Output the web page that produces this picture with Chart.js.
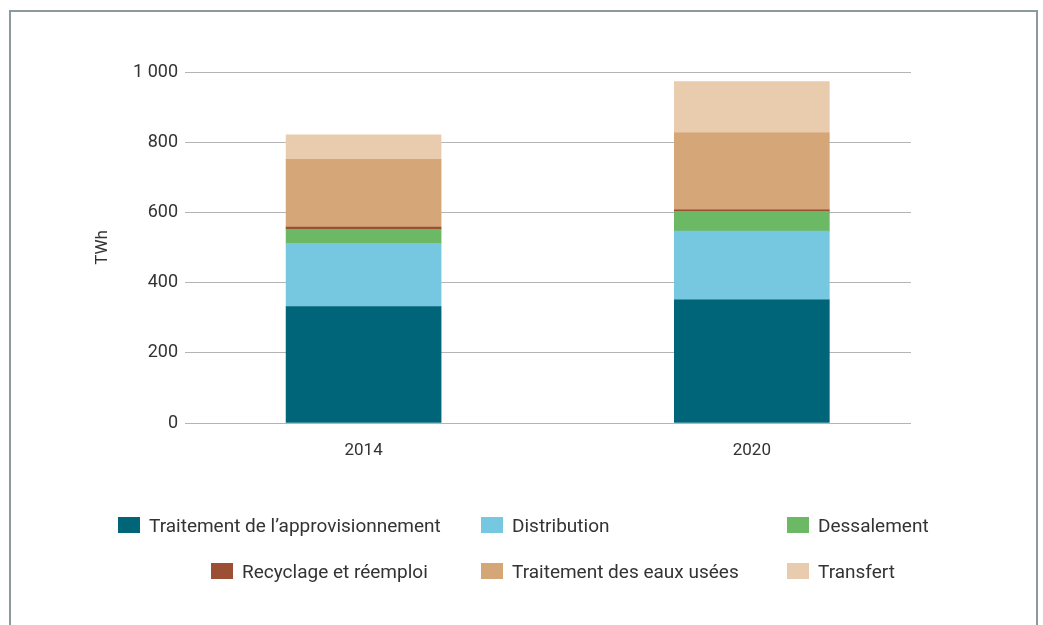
<!DOCTYPE html>
<html>
<head>
<meta charset="utf-8">
<script src="https://cdn.jsdelivr.net/npm/chart.js@4/dist/chart.umd.min.js"></script>
<style>
  html, body { margin: 0; padding: 0; background: #fff; }
  #wrap { position: relative; width: 1043px; height: 625px; overflow: hidden; font-family: Roboto, "Noto Sans", sans-serif; }
  #frame { position: absolute; left: 9px; top: 10px; width: 1025px; height: 700px; border: 2px solid #8c9a9f; pointer-events: none; }
  canvas { position: absolute; left: 0; top: 0; }
  .lg { position: absolute; display: flex; align-items: center; font-size: 19px; color: #333; white-space: nowrap; }
  .lg span.sw { display: inline-block; width: 22px; height: 16px; margin-right: 9px; }
</style>
</head>
<body>
<div id="wrap">
  <canvas id="c" width="1043" height="625"></canvas>
  <div id="frame"></div>
</div>
<script>
// ---- data ----
const categories = ['2014', '2020'];
const categoryPositions = [0, 1];
const seriesNames = [
  'Traitement de l\u2019approvisionnement',
  'Distribution',
  'Dessalement',
  'Recyclage et réemploi',
  'Traitement des eaux usées',
  'Transfert'
];
const supplyTreatment = [332, 351];
const distribution = [180, 196];
const desalination = [40, 56];
const recycling = [6, 4];
const wastewater = [193, 220];
const transfer = [70, 146];
const yTicks = [0, 200, 400, 600, 800, 1000];

// ---- styles ----
const colors = ['#006579', '#75c8e0', '#6bb865', '#9b4f35', '#d5a677', '#e9cbae'];
const legendPos = [
  [118, 525], [481, 525], [787, 525],
  [211, 571], [481, 571], [787, 571]
];

const seriesValues = [supplyTreatment, distribution, desalination, recycling, wastewater, transfer];

const datasets = seriesNames.map((name, i) => ({
  label: name,
  data: categoryPositions.map((x, j) => ({ x: x, y: seriesValues[i][j] })),
  backgroundColor: colors[i],
  borderWidth: 0,
  barThickness: 155,
  stack: 's'
}));

const fmt = v => {
  const s = String(v);
  return s.length > 3 ? s.slice(0, s.length - 3) + ' ' + s.slice(-3) : s;
};

new Chart(document.getElementById('c'), {
  type: 'bar',
  data: { datasets },
  options: {
    responsive: false,
    animation: false,
    events: [],
    layout: { padding: { left: 88, right: 132, top: 72, bottom: 150 } },
    plugins: { legend: { display: false }, tooltip: { enabled: false } },
    scales: {
      x: {
        type: 'linear',
        stacked: true,
        offset: false,
        min: -0.46,
        max: 1.41,
        grid: { display: false, drawTicks: false, offset: false },
        border: { display: false },
        afterBuildTicks: s => { s.ticks = categoryPositions.map(v => ({ value: v })); },
        afterFit: s => { s.height = 52; },
        ticks: {
          padding: 18,
          color: '#333',
          font: { family: 'Roboto', size: 17 },
          callback: v => categories[categoryPositions.indexOf(v)] ?? ''
        }
      },
      y: {
        stacked: true,
        min: 0,
        max: 1000,
        afterBuildTicks: s => { s.ticks = yTicks.map(v => ({ value: v })); },
        afterFit: s => { s.width = 97; },
        grid: { color: '#b4b4b4', lineWidth: 1, drawTicks: false },
        border: { display: false },
        ticks: {
          padding: 7,
          color: '#333',
          font: { family: 'Roboto', size: 18 },
          callback: v => fmt(v)
        },
        title: {
          display: true,
          text: 'TWh',
          color: '#333',
          font: { family: 'Roboto', size: 17 },
          padding: { top: 5, bottom: 0 }
        }
      }
    }
  }
});

// HTML legend built from series
const wrap = document.getElementById('wrap');
seriesNames.forEach((name, i) => {
  const d = document.createElement('div');
  d.className = 'lg';
  d.style.left = legendPos[i][0] + 'px';
  d.style.top = (legendPos[i][1] - 12) + 'px';
  d.style.height = '24px';
  const sw = document.createElement('span');
  sw.className = 'sw';
  sw.style.background = colors[i];
  const t = document.createElement('span');
  t.textContent = name;
  d.appendChild(sw);
  d.appendChild(t);
  wrap.appendChild(d);
});
</script>
</body>
</html>
